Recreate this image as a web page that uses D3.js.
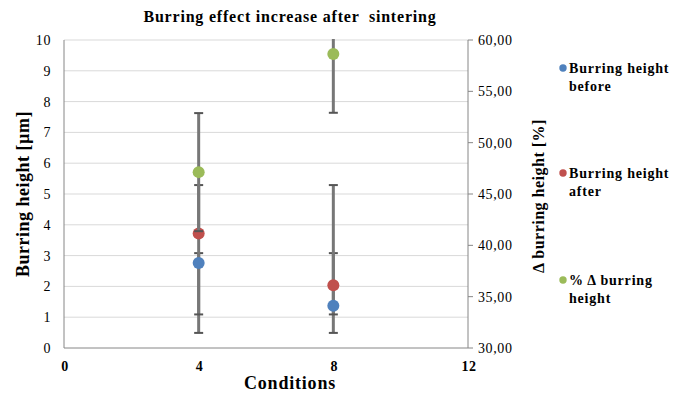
<!DOCTYPE html>
<html>
<head>
<meta charset="utf-8">
<script src="https://cdn.jsdelivr.net/npm/d3@7"></script>
<style>
  body { margin: 0; background: #fff; }
  svg text { font-family: 'Liberation Serif', 'DejaVu Serif', 'Times New Roman'; fill: #000; white-space: pre; }
</style>
</head>
<body>
<div id="chart"></div>
<script>
// values
const conditions = [4, 8]
const heightBefore = [2.76, 1.37]
const heightAfter = [3.72, 2.04]
const deltaPct = [47.13, 58.63]

// error bar ends (primary axis) and +/- for the delta series
const beforeLow = [0.49, 0.49]
const beforeHigh = [3.08, 3.08]
const afterLow = [1.09, 1.09]
const afterHigh = [5.29, 5.29]
const deltaErr = [5.75, 5.72]

const xTicks = [0, 4, 8, 12]
const yTicks = [0, 1, 2, 3, 4, 5, 6, 7, 8, 9, 10]
const y2Ticks = [30, 35, 40, 45, 50, 55, 60]
const legendLabels = [['Burring height', 'before'], ['Burring height', 'after'], ['% \u0394 burring', 'height']]
const colors = ['#4F81BD', '#C0504D', '#9BBB59']

const W = 688, H = 394
const plotL = 64, plotR = 468, plotT = 40, plotB = 348

const svg = d3.select('#chart').append('svg')
  .attr('width', W).attr('height', H)
  .style('font-family', "'Liberation Serif', 'DejaVu Serif', 'Times New Roman'")

const x = d3.scaleLinear().domain([0, 12]).range([plotL, plotR])
const y = d3.scaleLinear().domain([0, 10]).range([plotB, plotT])
const y2 = d3.scaleLinear().domain([30, 60]).range([plotB, plotT])

svg.append('defs').append('clipPath').attr('id', 'plot')
  .append('rect').attr('x', plotL - 10).attr('y', plotT - 1)
  .attr('width', plotR - plotL + 20).attr('height', plotB - plotT + 12)

// gridlines
svg.append('g').selectAll('line')
  .data(yTicks.filter(d => d > 0))
  .join('line')
  .attr('x1', plotL).attr('x2', plotR)
  .attr('y1', d => y(d)).attr('y2', d => y(d))
  .attr('stroke', '#d9d9d9').attr('stroke-width', 1)

// axis lines
const axisColor = '#868686'
svg.append('line').attr('x1', plotL).attr('x2', plotL).attr('y1', plotT).attr('y2', plotB).attr('stroke', axisColor)
svg.append('line').attr('x1', plotL).attr('x2', plotR).attr('y1', plotB).attr('y2', plotB).attr('stroke', axisColor)
svg.append('line').attr('x1', plotR).attr('x2', plotR).attr('y1', plotT).attr('y2', plotB).attr('stroke', axisColor)

// right axis ticks
svg.append('g').selectAll('line')
  .data(y2Ticks)
  .join('line')
  .attr('x1', plotR).attr('x2', plotR + 5)
  .attr('y1', d => y2(d)).attr('y2', d => y2(d))
  .attr('stroke', axisColor)

// tick labels
svg.append('g').selectAll('text')
  .data(yTicks)
  .join('text')
  .attr('x', 51).attr('y', d => y(d) + 5)
  .attr('text-anchor', 'end')
  .style('font-size', '14px').style('letter-spacing', '0.6px')
  .text(d => d)

const fmt = d => d.toFixed(2).replace('.', ',')
svg.append('g').selectAll('text')
  .data(y2Ticks)
  .join('text')
  .attr('x', 478).attr('y', d => y2(d) + 5)
  .style('font-size', '14px').style('letter-spacing', '0.6px')
  .text(fmt)

svg.append('g').selectAll('text')
  .data(xTicks)
  .join('text')
  .attr('x', d => x(d) + 1).attr('y', 371)
  .attr('text-anchor', 'middle')
  .style('font-size', '14px').style('font-weight', 'bold').style('letter-spacing', '0.6px')
  .text(d => d)

// titles
svg.append('text').attr('x', 290).attr('y', 22).attr('text-anchor', 'middle')
  .style('font-size', '16px').style('font-weight', 'bold').style('letter-spacing', '0.8px')
  .text('Burring effect increase after  sintering')

svg.append('text').attr('x', 290).attr('y', 389).attr('text-anchor', 'middle')
  .style('font-size', '18px').style('font-weight', 'bold').style('letter-spacing', '0.8px')
  .text('Conditions')

svg.append('text').attr('transform', 'translate(29,194) rotate(-90)').attr('text-anchor', 'middle')
  .style('font-size', '18px').style('font-weight', 'bold').style('letter-spacing', '0.5px')
  .text('Burring height [\u00b5m]')

svg.append('text').attr('transform', 'translate(544,196) rotate(-90)').attr('text-anchor', 'middle')
  .style('font-size', '16px').style('font-weight', 'bold').style('letter-spacing', '0.5px')
  .text('\u0394 burring height [%]')

// error bars + markers
const plot = svg.append('g').attr('clip-path', 'url(#plot)')

function errorBars(g, lows, highs, scale) {
  const data = conditions.map((c, i) => ({ c, lo: lows[i], hi: highs[i] }))
  const eg = g.append('g')
  eg.selectAll('line.v').data(data).join('line').attr('class', 'v')
    .attr('x1', d => x(d.c)).attr('x2', d => x(d.c))
    .attr('y1', d => scale(d.lo)).attr('y2', d => scale(d.hi))
    .attr('stroke', '#777').attr('stroke-width', 3)
  const caps = data.flatMap(d => [{ c: d.c, v: d.lo }, { c: d.c, v: d.hi }])
  eg.selectAll('line.cap').data(caps).join('line').attr('class', 'cap')
    .attr('x1', d => x(d.c) - 4.5).attr('x2', d => x(d.c) + 4.5)
    .attr('y1', d => scale(d.v)).attr('y2', d => scale(d.v))
    .attr('stroke', '#555').attr('stroke-width', 2)
}

function markers(g, values, scale, color) {
  g.append('g').selectAll('circle')
    .data(conditions.map((c, i) => ({ c, v: values[i] })))
    .join('circle')
    .attr('cx', d => x(d.c)).attr('cy', d => scale(d.v))
    .attr('r', 6).attr('fill', color)
}

// primary axis group
errorBars(plot, beforeLow, beforeHigh, y)
errorBars(plot, afterLow, afterHigh, y)
markers(plot, heightBefore, y, colors[0])
markers(plot, heightAfter, y, colors[1])
// secondary axis group on top
errorBars(plot, deltaPct.map((v, i) => v - deltaErr[i]), deltaPct.map((v, i) => v + deltaErr[i]), y2)
markers(plot, deltaPct, y2, colors[2])

// legend
const legendY = [68, 173, 280]
const lg = svg.append('g').selectAll('g')
  .data(legendLabels)
  .join('g')
  .attr('transform', (d, i) => `translate(563,${legendY[i]})`)
lg.append('circle').attr('r', 3.7).attr('fill', (d, i) => colors[i])
lg.append('text').attr('x', 6).attr('y', 5)
  .style('font-size', '14px').style('font-weight', 'bold').style('letter-spacing', '0.8px')
  .text(d => d[0])
lg.append('text').attr('x', 6).attr('y', 22.5)
  .style('font-size', '14px').style('font-weight', 'bold').style('letter-spacing', '0.8px')
  .text(d => d[1])
</script>
</body>
</html>
